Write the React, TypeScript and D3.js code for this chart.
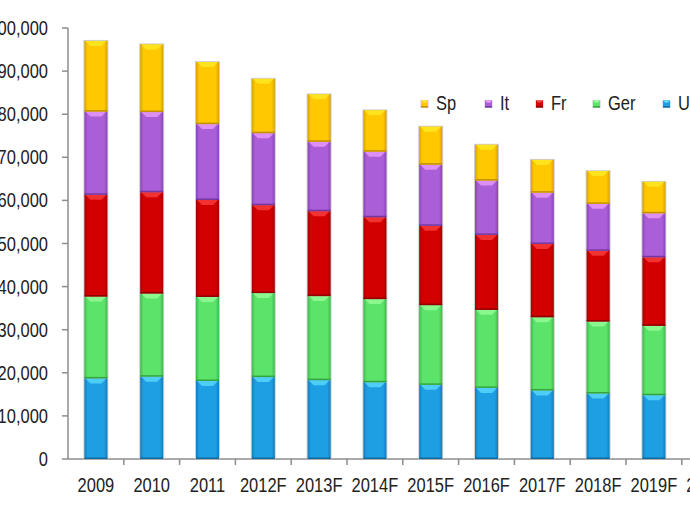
import { scaleBand, scaleLinear, stack } from 'd3'

// Stacked column chart, Excel-style bevelled bars. The original is cropped on
// both sides, so the svg is wider than the frame and the frame clips it.

const YEARS = ['2009', '2010', '2011', '2012F', '2013F', '2014F', '2015F', '2016F', '2017F', '2018F', '2019F', '2020F']
const UK = [18700, 19100, 18100, 19000, 18300, 17800, 17200, 16500, 15900, 15200, 14800, 14400]
const GER = [19000, 19300, 19500, 19500, 19500, 19300, 18500, 18100, 17000, 16700, 16100, 15600]
const FR = [23600, 23500, 22500, 20400, 19700, 19000, 18400, 17400, 17000, 16400, 15900, 15400]
const IT = [19300, 18600, 17600, 16700, 16100, 15200, 14200, 12600, 11900, 10900, 10200, 9600]
const SP = [16400, 15700, 14400, 12600, 11000, 9600, 8800, 8300, 7600, 7600, 7300, 7000]
const Y_TICKS = [0, 10000, 20000, 30000, 40000, 50000, 60000, 70000, 80000, 90000, 100000]

const SERIES = [
  { key: 'UK', name: 'UK', values: UK, main: '#1e9ee3', edge: '#137cbc', hi: '#62e2ff', lo: '#0d6497' },
  { key: 'Ger', name: 'Ger', values: GER, main: '#5be36a', edge: '#3dbb4b', hi: '#a0ffa0', lo: '#2f9a3a' },
  { key: 'Fr', name: 'Fr', values: FR, main: '#d20000', edge: '#a80000', hi: '#ff4646', lo: '#850000' },
  { key: 'It', name: 'It', values: IT, main: '#aa5fd8', edge: '#8a44b8', hi: '#f4a4ff', lo: '#6e3096' },
  { key: 'Sp', name: 'Sp', values: SP, main: '#ffc800', edge: '#d9a300', hi: '#fff02a', lo: '#b88700' },
]

// legend reads right-to-left relative to the stack
const LEGEND_ORDER = ['Sp', 'It', 'Fr', 'Ger', 'UK']
const LEGEND_X = [421, 485, 536, 593, 663]

const FONT = '"Liberation Sans", Arial, sans-serif'
const TEXT = '#222'
const AXIS = '#8c8c8c'

function Label({ x, y, anchor, children }: { x: number; y: number; anchor: 'start' | 'middle' | 'end'; children: any }) {
  return (
    <text
      transform={`translate(${x},${y}) scale(0.97,1.2)`}
      textAnchor={anchor}
      fontFamily={FONT}
      fontSize={17}
      fill={TEXT}
    >
      {children}
    </text>
  )
}

export default function App() {
  const width = 760
  const height = 518
  const x0 = 68
  const step = 55.8
  const x = scaleBand<string>().domain(YEARS).range([x0, x0 + step * YEARS.length]).padding(0)
  const y = scaleLinear().domain([0, 100000]).range([459, 28])
  const barW = 23
  const bev = 5

  const rows = YEARS.map((yr, i) => {
    const r: Record<string, any> = { year: yr }
    SERIES.forEach((s) => (r[s.key] = s.values[i]))
    return r
  })
  const layers = stack<any>().keys(SERIES.map((s) => s.key))(rows)

  return (
    <div style={{ position: 'fixed', left: 0, top: 0, width: 690, height: 518, overflow: 'hidden', background: '#fff' }}>
      <svg width={width} height={height} viewBox={`0 0 ${width} ${height}`}>
        <defs>
          {SERIES.map((s) => (
            <linearGradient key={s.key} id={`g-${s.key}`} x1="0" x2="1" y1="0" y2="0">
              <stop offset="0%" stopColor={s.edge} />
              <stop offset="14%" stopColor={s.main} />
              <stop offset="86%" stopColor={s.main} />
              <stop offset="100%" stopColor={s.edge} />
            </linearGradient>
          ))}
        </defs>

        {/* axes */}
        <line x1={x0} x2={x0} y1={y(100000)} y2={y(0)} stroke={AXIS} strokeWidth={1.5} />
        <line x1={x0} x2={width} y1={y(0)} y2={y(0)} stroke={AXIS} strokeWidth={1.5} />
        {Y_TICKS.map((t) => (
          <g key={t}>
            <line x1={x0 - 6} x2={x0} y1={y(t)} y2={y(t)} stroke={AXIS} strokeWidth={1.5} />
            <Label x={48} y={y(t) + 7} anchor="end">
              {t.toLocaleString('en-US')}
            </Label>
          </g>
        ))}
        {YEARS.map((yr) => (
          <line key={yr} x1={(x(yr) ?? 0) + step} x2={(x(yr) ?? 0) + step} y1={y(0)} y2={y(0) + 6} stroke={AXIS} strokeWidth={1.5} />
        ))}
        {YEARS.map((yr) => (
          <Label key={yr} x={(x(yr) ?? 0) + step / 2} y={492} anchor="middle">
            {yr}
          </Label>
        ))}

        {/* bar shadows */}
        {YEARS.map((yr, i) => {
          const top = layers[layers.length - 1][i][1]
          const bx = (x(yr) ?? 0) + step / 2 - barW / 2
          return (
            <rect key={yr} x={bx - 1} y={y(top) - 1} width={barW + 2} height={y(0) - y(top) + 1} fill="#cfcfcf" />
          )
        })}

        {/* stacked segments */}
        {layers.map((layer, li) => {
          const s = SERIES[li]
          return (
            <g key={s.key}>
              {layer.map((d, i) => {
                const bx = (x(YEARS[i]) ?? 0) + step / 2 - barW / 2
                const yt = y(d[1])
                const yb = y(d[0])
                const h = yb - yt
                const b = Math.min(bev, h / 3)
                return (
                  <g key={i}>
                    <rect x={bx} y={yt} width={barW} height={h} fill={`url(#g-${s.key})`} />
                    <polygon
                      points={`${bx + 1},${yt} ${bx + barW - 1},${yt} ${bx + barW - b - 1},${yt + b} ${bx + b + 1},${yt + b}`}
                      fill={s.hi}
                      opacity={0.7}
                    />
                    <rect x={bx} y={yb - 1.5} width={barW} height={1.5} fill={s.lo} opacity={0.85} />
                  </g>
                )
              })}
            </g>
          )
        })}

        {/* legend */}
        {LEGEND_ORDER.map((k, i) => {
          const s = SERIES.find((q) => q.key === k)!
          const lx = LEGEND_X[i]
          return (
            <g key={k}>
              <rect x={lx - 0.5} y={100} width={8} height={8} fill="#c8c8c8" />
              <rect x={lx} y={100.5} width={7} height={7} fill={s.main} />
              <polygon points={`${lx},${100.5} ${lx + 7},${100.5} ${lx + 5},${102.5} ${lx + 2},${102.5}`} fill={s.hi} />
              <rect x={lx} y={106} width={7} height={1.5} fill={s.lo} opacity={0.8} />
              <Label x={lx + 15} y={110} anchor="start">
                {s.name}
              </Label>
            </g>
          )
        })}
      </svg>
    </div>
  )
}
